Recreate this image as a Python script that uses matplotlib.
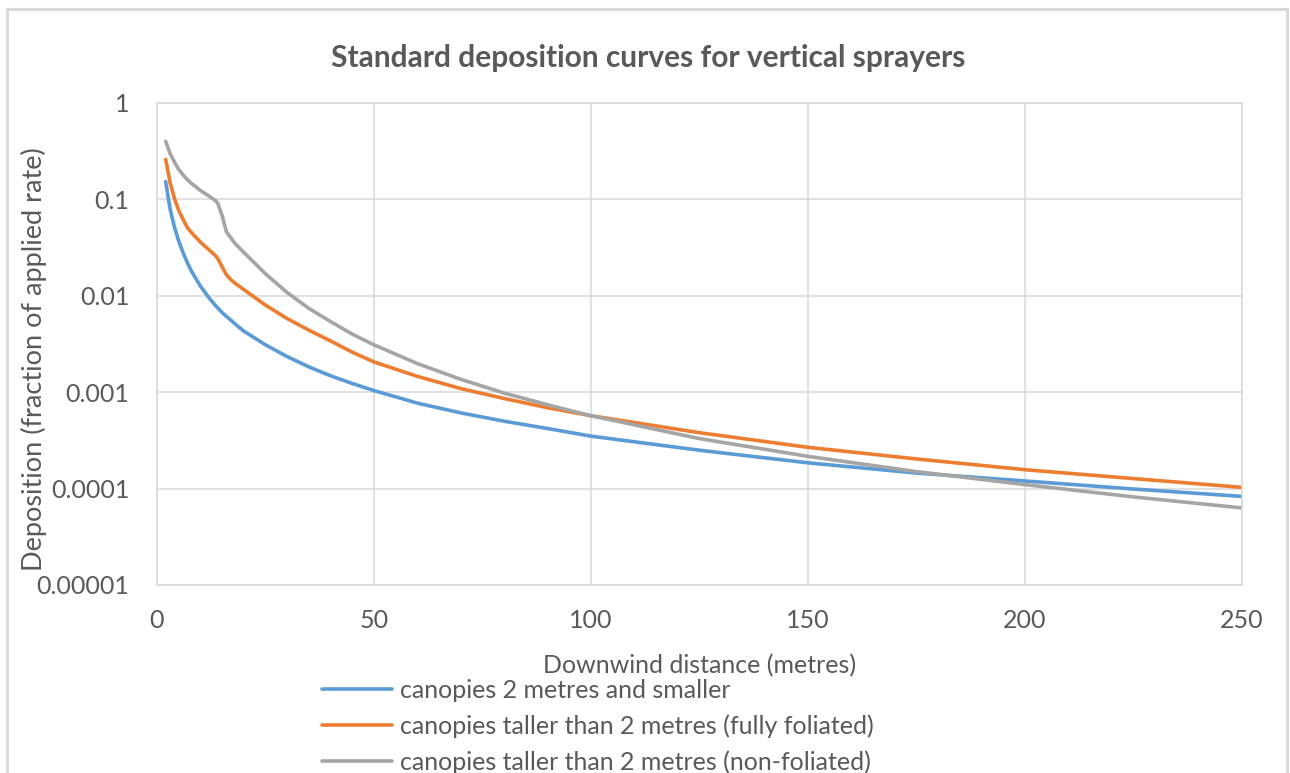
import matplotlib
matplotlib.use('Agg')
import matplotlib.pyplot as plt
from matplotlib.patches import Rectangle
from matplotlib.ticker import FixedLocator, FixedFormatter

plt.rcParams['font.family'] = ['Lato', 'DejaVu Sans']

# downwind distance (m) and deposition (fraction of applied rate)
dist = [2, 3, 4, 5, 6, 7, 8, 10, 12, 13.5, 14, 15, 16, 17, 18, 20, 25, 30, 35, 40,
        45, 50, 60, 70, 80, 90, 100, 125, 150, 175, 200, 225, 250]

small = [0.153, 0.080, 0.052, 0.037, 0.028, 0.022, 0.0178, 0.0126, 0.0095, 0.0079,
         0.0075, 0.0067, 0.0061, 0.0056, 0.0051, 0.0043, 0.0031, 0.00234, 0.00183, 0.00148,
         0.00123, 0.00104, 0.00077, 0.00061, 0.00050, 0.00042, 0.00035, 0.00025, 0.000185,
         0.000145, 0.000120, 0.000099, 0.000083]

foliated = [0.26, 0.150, 0.103, 0.077, 0.062, 0.051, 0.045, 0.036, 0.030, 0.0260,
            0.0243, 0.0200, 0.0165, 0.0147, 0.0135, 0.0116, 0.0080, 0.0058, 0.0044, 0.0034,
            0.0026, 0.00206, 0.00146, 0.00109, 0.00086, 0.00069, 0.00057, 0.00038, 0.000268,
            0.000203, 0.000157, 0.000127, 0.000103]

non_foliated = [0.40, 0.30, 0.245, 0.205, 0.180, 0.160, 0.146, 0.124, 0.108, 0.097,
                0.091, 0.068, 0.046, 0.040, 0.0348, 0.0282, 0.0169, 0.0108, 0.0074, 0.0054,
                0.0040, 0.0031, 0.00198, 0.00136, 0.00098, 0.00074, 0.00057, 0.00033, 0.000216,
                0.000150, 0.000110, 0.000082, 0.000063]

series_labels = ['canopies 2 metres and smaller',
                 'canopies taller than 2 metres (fully foliated)',
                 'canopies taller than 2 metres (non-foliated)']
colors = ['#5B9BD5', '#ED7D31', '#A5A5A5']

y_ticks = [1, 0.1, 0.01, 0.001, 0.0001, 0.00001]
y_ticklabels = ['1', '0.1', '0.01', '0.001', '0.0001', '0.00001']
x_ticks = [0, 50, 100, 150, 200, 250]

text_col = '#595959'
grid_col = '#d9d9d9'

fig = plt.figure(figsize=(12.9, 7.73), dpi=100)
ax = fig.add_axes([157/1290, 1 - 585/773, 1085/1290, 482/773])

for ys, lab, c in zip([small, foliated, non_foliated], series_labels, colors):
    ax.plot(dist, ys, color=c, lw=2.6, label=lab, solid_capstyle='round')

ax.set_yscale('log')
ax.set_ylim(1e-5, 1)
ax.set_xlim(0, 250)
ax.yaxis.set_major_locator(FixedLocator(y_ticks))
ax.yaxis.set_major_formatter(FixedFormatter(y_ticklabels))
ax.yaxis.set_minor_locator(FixedLocator([]))
ax.set_xticks(x_ticks)
ax.grid(True, color=grid_col, lw=1.1)
ax.set_axisbelow(True)
for s in ax.spines.values():
    s.set_color(grid_col)
    s.set_linewidth(1.1)
ax.tick_params(length=0, labelsize=18, labelcolor=text_col)
ax.tick_params(axis='y', pad=20)
ax.tick_params(axis='x', pad=17)

ax.set_xlabel('Downwind distance (metres)', fontsize=18, color=text_col, labelpad=16)
ax.set_ylabel('Deposition (fraction of applied rate)', fontsize=19.5, color=text_col)
ax.yaxis.set_label_coords(-110/1085, 0.5 - 15/482)

fig.text(648/1290, 1 - 58/773, 'Standard deposition curves for vertical sprayers',
         ha='center', va='center', fontsize=21.5, fontweight='bold', color=text_col)

fig.legend(loc='upper left', bbox_to_anchor=(322/1290, 1 - 679/773), frameon=False,
           fontsize=18, handlelength=2.8, handletextpad=0.32, labelspacing=0.5,
           borderpad=0, borderaxespad=0, labelcolor=text_col)

# chart area border
fig.patches.append(Rectangle((7/1290, -0.05), 1280/1290, 1.05 - 9/773,
                             transform=fig.transFigure, fill=False,
                             ec=grid_col, lw=2.2))

fig.savefig('out.png', dpi=100)
